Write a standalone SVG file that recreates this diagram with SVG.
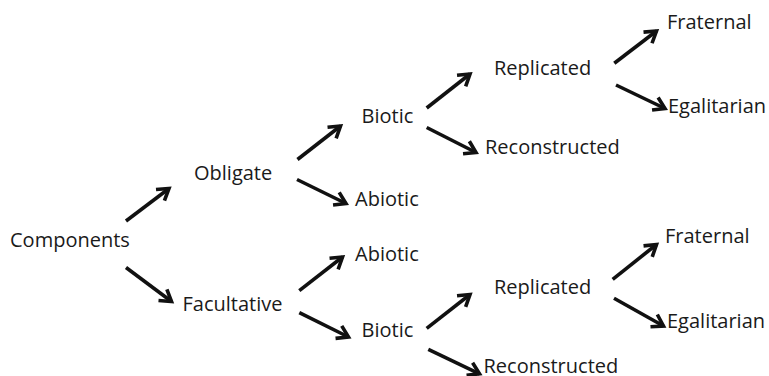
<svg xmlns="http://www.w3.org/2000/svg" width="769" height="376" viewBox="0 0 769 376">
<style>
text{font-family:"Open Sans","Liberation Sans",sans-serif;font-size:20px;fill:#1a1a1a}
.c line{stroke:#111;stroke-width:3.6;stroke-linecap:butt;marker-end:url(#ah)}
</style>
<defs>
<marker id="ah" markerUnits="userSpaceOnUse" viewBox="-14 -9 18 18" refX="0" refY="0" markerWidth="18" markerHeight="18" orient="auto" overflow="visible">
<path d="M-11,-7 L0,0 L-11,7" fill="none" stroke="#111" stroke-width="3.6" stroke-linejoin="miter" stroke-miterlimit="6"/>
</marker>
</defs>
<rect width="769" height="376" fill="#fff"/>
<g class="c" id="connectors">
<line x1="126" y1="221" x2="169" y2="188.5"/>
<line x1="126" y1="267.5" x2="171.5" y2="301.5"/>
<line x1="297.5" y1="159.5" x2="340.5" y2="126"/>
<line x1="297" y1="179.5" x2="346" y2="203.5"/>
<line x1="426.7" y1="108" x2="470" y2="74"/>
<line x1="426.7" y1="127.5" x2="476" y2="152.5"/>
<line x1="614.3" y1="63.3" x2="656.5" y2="31"/>
<line x1="616" y1="85" x2="665" y2="108.5"/>
<line x1="299.3" y1="290.7" x2="342.5" y2="257"/>
<line x1="299.3" y1="312.7" x2="348.5" y2="337"/>
<line x1="426.7" y1="328.3" x2="470" y2="294.5"/>
<line x1="428.3" y1="349.3" x2="479.5" y2="373.8"/>
<line x1="612.7" y1="279.3" x2="656.5" y2="244.5"/>
<line x1="614" y1="298.3" x2="663.5" y2="326"/>
</g>
<g id="components"><text x="10" y="247">Components</text></g>
<g id="obligate"><text x="194" y="180">Obligate</text></g>
<g id="facultative"><text x="182.5" y="311">Facultative</text></g>
<g id="biotic-top"><text x="361.5" y="123">Biotic</text></g>
<g id="abiotic-top"><text x="355" y="206">Abiotic</text></g>
<g id="replicated-top"><text x="494" y="75">Replicated</text></g>
<g id="reconstructed-top"><text x="485" y="154">Reconstructed</text></g>
<g id="fraternal-top"><text x="667" y="29">Fraternal</text></g>
<g id="egalitarian-top"><text x="668" y="113">Egalitarian</text></g>
<g id="abiotic-bottom"><text x="355" y="261">Abiotic</text></g>
<g id="biotic-bottom"><text x="361.5" y="337">Biotic</text></g>
<g id="replicated-bottom"><text x="494" y="294">Replicated</text></g>
<g id="reconstructed-bottom"><text x="483.5" y="373">Reconstructed</text></g>
<g id="fraternal-bottom"><text x="665" y="243">Fraternal</text></g>
<g id="egalitarian-bottom"><text x="667" y="328">Egalitarian</text></g>
</svg>
